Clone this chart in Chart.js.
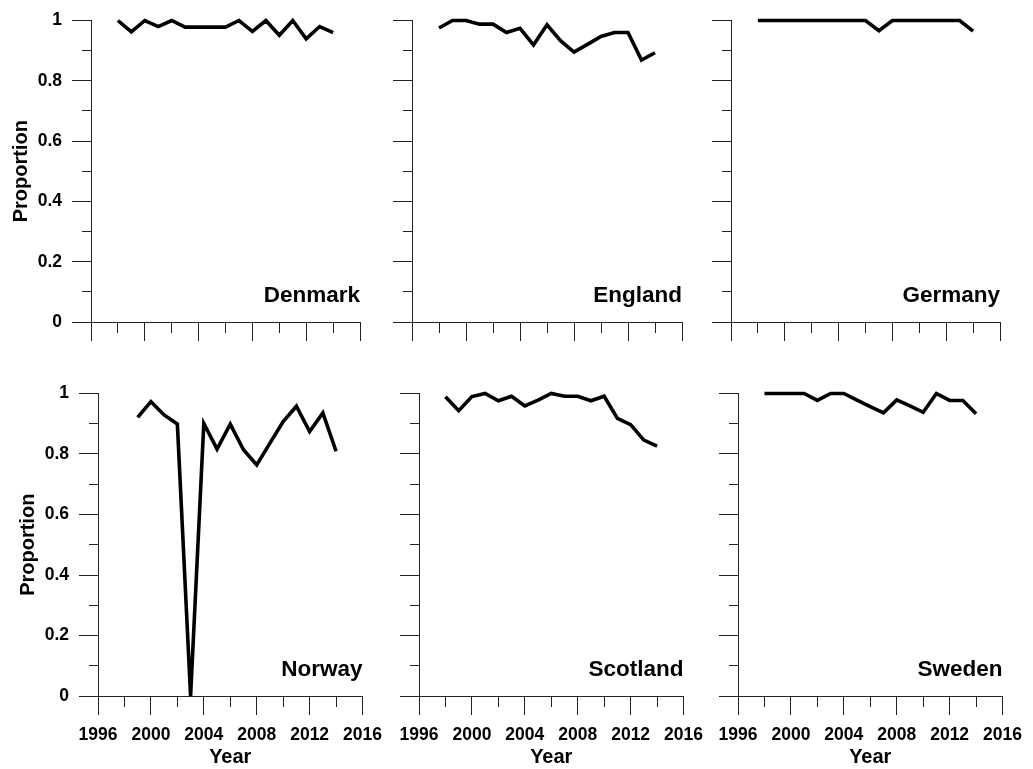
<!DOCTYPE html>
<html><head><meta charset="utf-8">
<script src="https://cdn.jsdelivr.net/npm/chart.js@4/dist/chart.umd.min.js"></script>
<style>
html,body{margin:0;padding:0;background:#fff;overflow:hidden;width:1033px;height:769px;position:relative}
canvas{position:absolute}
</style></head><body>
<script>
// ---- data ----
const years = [1998,1999,2000,2001,2002,2003,2004,2005,2006,2007,2008,2009,2010,2011,2012,2013,2014];
const norwayYears = [1999,2000,2001,2002,2003,2004,2005,2006,2007,2008,2009,2010,2011,2012,2013,2014];
const denmark  = [1.0,0.962,1.0,0.98,1.0,0.978,0.978,0.978,0.978,1.0,0.964,1.0,0.951,1.0,0.939,0.98,0.96];
const england  = [0.975,1.0,1.0,0.988,0.988,0.96,0.974,0.919,0.986,0.933,0.895,0.921,0.947,0.96,0.96,0.869,0.893];
const germany  = [1,1,1,1,1,1,1,1,1,0.966,1,1,1,1,1,1,0.965];
const norway   = [0.921,0.973,0.929,0.899,0,0.901,0.816,0.899,0.814,0.764,0.836,0.907,0.958,0.874,0.936,0.809];
const scotland = [0.989,0.943,0.99,1.0,0.976,0.991,0.959,0.978,1.0,0.991,0.991,0.976,0.991,0.918,0.897,0.846,0.826];
const sweden   = [1,1,1,1,0.977,1,1,0.978,0.957,0.936,0.979,0.959,0.938,1.0,0.977,0.977,0.933];
const countries = ['Denmark','England','Germany','Norway','Scotland','Sweden'];
const xTickLabels = ['1996','2000','2004','2008','2012','2016'];
const yTickLabels = ['0','0.2','0.4','0.6','0.8','1'];
const xTitle = 'Year';
const yTitle = 'Proportion';

// ---- layout (panel plot areas) ----
const panels = [
  {name: countries[0], xs: years, ys: denmark,  L: 91,  R: 360,  T: 17,  B: 322, col: 0, row: 0},
  {name: countries[1], xs: years, ys: england,  L: 412, R: 682,  T: 17,  B: 322, col: 1, row: 0},
  {name: countries[2], xs: years, ys: germany,  L: 731, R: 1000, T: 17,  B: 322, col: 2, row: 0},
  {name: countries[3], xs: norwayYears, ys: norway, L: 98, R: 368, T: 393, B: 696, col: 0, row: 1},
  {name: countries[4], xs: years, ys: scotland, L: 419, R: 689,  T: 393, B: 696, col: 1, row: 1},
  {name: countries[5], xs: years, ys: sweden,   L: 738, R: 1008, T: 393, B: 696, col: 2, row: 1}
];

Chart.defaults.font.family = '"Liberation Sans", Arial, Helvetica, sans-serif';
Chart.defaults.color = '#000';
const axisColor = '#222';
const YW = 91, PADR = 24;

const panelLabel = {
  id: 'panelLabel',
  afterDraw(chart, args, opts) {
    const {ctx, chartArea} = chart;
    ctx.save();
    ctx.font = 'bold 22.5px "Liberation Sans", Arial, sans-serif';
    ctx.fillStyle = '#000';
    ctx.textAlign = 'right';
    ctx.textBaseline = 'alphabetic';
    ctx.fillText(opts.text, chartArea.right, chartArea.bottom - 20);
    ctx.restore();
  }
};

panels.forEach(p => {
  const padTop = p.row === 0 ? 17 : 20;
  const XH = p.row === 0 ? 30 : 73;
  const showX = p.row === 1;
  const showY = p.col === 0;
  const c = document.createElement('canvas');
  const w = YW + (p.R - p.L) + PADR;
  const h = padTop + (p.B - p.T) + XH;
  c.width = w; c.height = h;
  c.style.left = (p.L - YW) + 'px';
  c.style.top = (p.T - padTop) + 'px';
  c.style.width = w + 'px'; c.style.height = h + 'px';
  document.body.appendChild(c);

  new Chart(c, {
    type: 'line',
    data: {
      datasets: [{
        data: p.xs.map((x, i) => ({x: x, y: p.ys[i]})),
        borderColor: '#000',
        borderWidth: 3.6,
        pointRadius: 0,
        tension: 0,
        fill: false,
        clip: false,
        borderJoinStyle: 'miter'
      }]
    },
    options: {
      responsive: false,
      animation: false,
      events: [],
      devicePixelRatio: 1,
      layout: {padding: {top: padTop, right: PADR, left: 0, bottom: 0}},
      plugins: {legend: {display: false}, tooltip: {enabled: false}, panelLabel: {text: p.name}},
      scales: {
        x: {
          type: 'linear', min: 1996, max: 2016, position: 'bottom',
          border: {display: true, color: axisColor, width: 1},
          grid: {
            drawOnChartArea: false, drawTicks: true, tickLength: 19,
            tickColor: axisColor, tickWidth: 1,
            tickBorderDash: ctx => ((ctx.tick.value - 1996) % 4 === 2) ? [10, 9] : []
          },
          ticks: {
            stepSize: 2, autoSkip: false, maxRotation: 0, minRotation: 0, padding: 10,
            font: {size: 17.5, weight: 'bold'}, color: '#000',
            callback: v => (showX && xTickLabels.includes(String(v))) ? String(v) : ''
          },
          title: {display: showX, text: xTitle, font: {size: 20, weight: 'bold'}, color: '#000', padding: {top: 0, bottom: 0}},
          afterFit: s => { s.height = XH; }
        },
        y: {
          type: 'linear', min: 0, max: 1, position: 'left',
          border: {display: true, color: axisColor, width: 1},
          grid: {
            drawOnChartArea: false, drawTicks: true, tickLength: 19,
            tickColor: axisColor, tickWidth: 1,
            tickBorderDash: ctx => (Math.round(ctx.tick.value * 10) % 2 === 1) ? [9, 10] : [],
            tickBorderDashOffset: ctx => (Math.round(ctx.tick.value * 10) % 2 === 1) ? 9 : 0
          },
          ticks: {
            stepSize: 0.1, autoSkip: false, padding: 10,
            font: {size: 17.5, weight: 'bold'}, color: '#000',
            callback: v => { const k = Math.round(v * 10); return (showY && k % 2 === 0) ? yTickLabels[k / 2] : ''; }
          },
          title: {display: showY, text: yTitle, font: {size: 20, weight: 'bold'}, color: '#000', padding: {top: 9, bottom: 0}},
          afterFit: s => { s.width = YW; }
        }
      }
    },
    plugins: [panelLabel]
  });
});
</script>
</body></html>
